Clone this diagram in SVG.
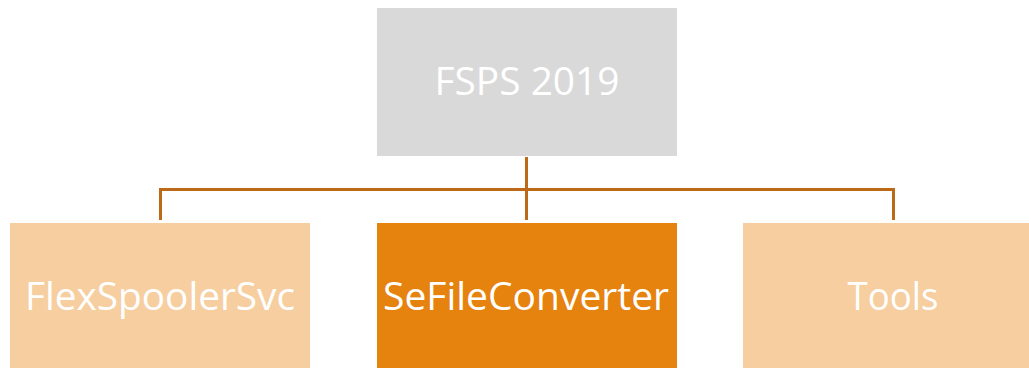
<svg xmlns="http://www.w3.org/2000/svg" width="1029" height="368" viewBox="0 0 1029 368">
<style>
.t{font-family:"Open Sans","Liberation Sans",sans-serif;font-size:39px;fill:#ffffff;text-anchor:middle}
.c{stroke:#BC6A17;stroke-width:3;fill:none}
.lt{fill:#F6CE9F}
</style>
<rect width="1029" height="368" fill="#ffffff"/>
<g id="connectors">
<path class="c" d="M526.5 157 V220 M160.5 220 V189.5 H893.5 V220"/>
</g>
<g id="fsps">
<rect x="377" y="8" width="300" height="148" fill="#D9D9D9"/>
<text class="t" x="527" y="95" textLength="185" lengthAdjust="spacingAndGlyphs">FSPS 2019</text>
</g>
<g id="flexspooler">
<rect class="lt" x="10" y="223" width="300" height="145"/>
<text class="t" x="160" y="310" textLength="270" lengthAdjust="spacingAndGlyphs">FlexSpoolerSvc</text>
</g>
<g id="sefileconverter">
<rect x="377" y="223" width="300" height="145" fill="#E6820E"/>
<text class="t" x="526" y="310" textLength="286" lengthAdjust="spacingAndGlyphs">SeFileConverter</text>
</g>
<g id="tools">
<rect class="lt" x="743" y="223" width="286" height="145"/>
<text class="t" x="893" y="310" textLength="91" lengthAdjust="spacingAndGlyphs">Tools</text>
</g>
</svg>
